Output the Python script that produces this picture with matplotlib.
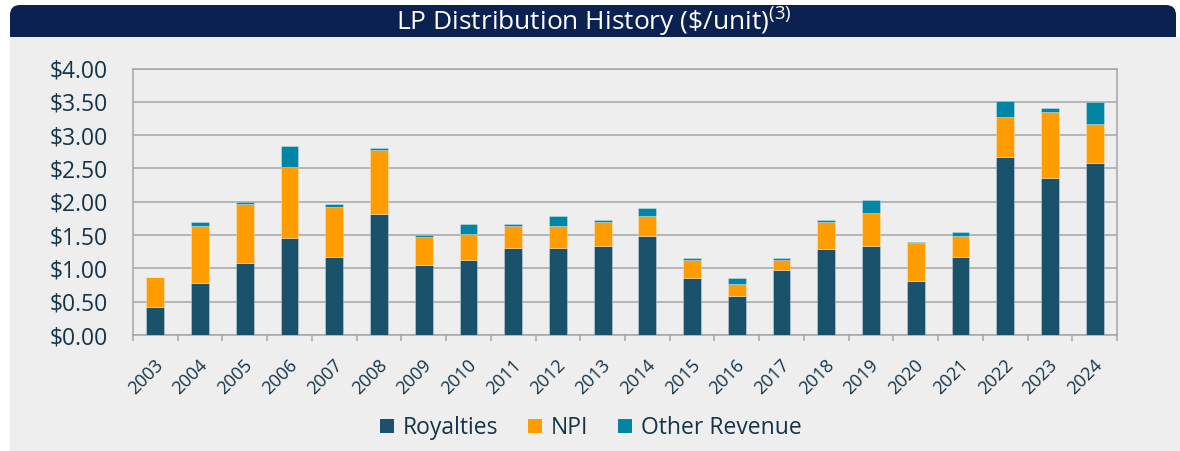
import numpy as np
import matplotlib
matplotlib.use("Agg")
import matplotlib.pyplot as plt
from matplotlib.patches import FancyBboxPatch, Rectangle, Patch
import matplotlib.transforms as mtransforms

years = ["2003", "2004", "2005", "2006", "2007", "2008", "2009", "2010", "2011", "2012", "2013",
         "2014", "2015", "2016", "2017", "2018", "2019", "2020", "2021", "2022", "2023", "2024"]
royalties = [0.42, 0.78, 1.08, 1.46, 1.17, 1.81, 1.05, 1.12, 1.30, 1.30, 1.33,
             1.48, 0.85, 0.58, 0.97, 1.29, 1.34, 0.81, 1.17, 2.67, 2.35, 2.58]
npi = [0.45, 0.85, 0.88, 1.06, 0.75, 0.96, 0.42, 0.39, 0.33, 0.34, 0.36,
       0.30, 0.28, 0.19, 0.15, 0.40, 0.49, 0.57, 0.31, 0.60, 0.99, 0.58]
other = [0.00, 0.07, 0.04, 0.31, 0.05, 0.04, 0.03, 0.15, 0.03, 0.15, 0.04,
         0.13, 0.02, 0.09, 0.04, 0.04, 0.19, 0.01, 0.06, 0.24, 0.06, 0.34]
yticks = [0, 0.5, 1.0, 1.5, 2.0, 2.5, 3.0, 3.5, 4.0]
ytick_labels = ["$0.00", "$0.50", "$1.00", "$1.50", "$2.00", "$2.50", "$3.00", "$3.50", "$4.00"]
series_names = ["Royalties", "NPI", "Other Revenue"]

FONT = "Open Sans"
plt.rcParams['font.family'] = [FONT, 'DejaVu Sans']
plt.rcParams['mathtext.fontset'] = 'custom'
plt.rcParams['mathtext.rm'] = FONT

C_ROY = "#1a526b"
C_NPI = "#ff9c00"
C_OTH = "#0086a4"
C_BG = "#eeeeee"
C_NAVY = "#0b2150"
C_GRID = "#a6a6a6"
C_TEXT = "#163447"

W, H = 1180, 451
fig = plt.figure(figsize=(W / 100, H / 100), dpi=100, facecolor="white")

# background panel in pixel coordinates
bg = fig.add_axes([0, 0, 1, 1], zorder=-5)
bg.set_xlim(0, W)
bg.set_ylim(H, 0)
bg.axis("off")
bg.add_patch(FancyBboxPatch((10, 5), 1166, 60, boxstyle="round,pad=0,rounding_size=10",
                            facecolor=C_NAVY, edgecolor="none"))
bg.add_patch(Rectangle((10, 37), W - 10, H - 37, facecolor=C_BG, edgecolor="none"))

ax = fig.add_axes([133 / W, 1 - 335 / H, (1117 - 133) / W, (335 - 68.5) / H])
ax.set_facecolor("none")
x = np.arange(len(years))
bw = 0.4
roy = np.array(royalties)
np_ = np.array(npi)
ot = np.array(other)
ec = (1, 1, 1, 0.35)
ax.bar(x, roy, bw, color=C_ROY, edgecolor=ec, linewidth=0.6, zorder=3)
ax.bar(x, np_, bw, bottom=roy, color=C_NPI, edgecolor=ec, linewidth=0.6, zorder=3)
ax.bar(x, ot, bw, bottom=roy + np_, color=C_OTH, edgecolor=ec, linewidth=0.6, zorder=3)

ax.set_xlim(-0.5, len(years) - 0.5)
ax.set_ylim(0, 4.0)
ax.set_yticks(yticks)
ax.set_yticklabels(ytick_labels, fontsize=16.5, color=C_TEXT)
ax.tick_params(axis="y", length=0, pad=18)
ax.yaxis.grid(True, color=C_GRID, linewidth=1.1, zorder=0)
ax.set_axisbelow(True)

ax.set_xticks(x)
ax.set_xticklabels(years, fontsize=13, color=C_TEXT, rotation=45, ha="right", va="center",
                   rotation_mode="anchor")
ax.tick_params(axis="x", which="major", length=0, pad=20)
ax.set_xticks(np.arange(-0.5, len(years), 1.0), minor=True)
ax.tick_params(axis="x", which="minor", length=4.5, width=1.1, color=C_GRID, direction="out")
offset = mtransforms.ScaledTranslation(5 / 100, 0, fig.dpi_scale_trans)
for lab in ax.get_xticklabels():
    lab.set_transform(lab.get_transform() + offset)

for s in ["left", "right", "bottom", "top"]:
    ax.spines[s].set_color(C_GRID)
    ax.spines[s].set_linewidth(1.1)

handles = [Patch(facecolor=c, edgecolor="none") for c in (C_ROY, C_NPI, C_OTH)]
fig.legend(handles, series_names, loc="center", bbox_to_anchor=(591 / W, 1 - 428 / H),
           ncol=3, frameon=False, fontsize=16.5, handlelength=0.6, handleheight=0.6,
           handletextpad=0.4, columnspacing=1.3, labelcolor=C_TEXT)

fig.text(594 / W, 1 - 21 / H, r"LP Distribution History (\$/unit)$^{\mathrm{(3)}}$",
         color="white", fontsize=19, ha="center", va="center")

fig.savefig("out.png", dpi=100, facecolor="white")
